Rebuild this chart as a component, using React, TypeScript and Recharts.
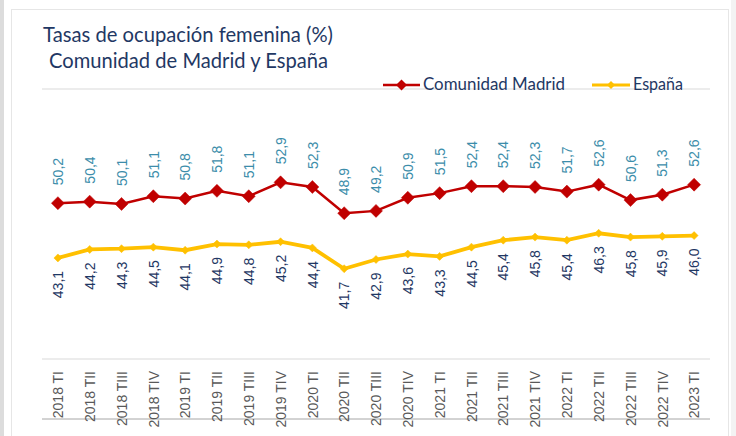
import React from "react";
import { LineChart, Line, XAxis, YAxis, CartesianGrid, LabelList } from "recharts";

const categories = ["2018 TI","2018 TII","2018 TIII","2018 TIV","2019 TI","2019 TII","2019 TIII","2019 TIV","2020 TI","2020 TII","2020 TIII","2020 TIV","2021 TI","2021 TII","2021 TIII","2021 TIV","2022 TI","2022 TII","2022 TIII","2022 TIV","2023 TI"];
const madrid = [50.2,50.4,50.1,51.1,50.8,51.8,51.1,52.9,52.3,48.9,49.2,50.9,51.5,52.4,52.4,52.3,51.7,52.6,50.6,51.3,52.6];
const espana = [43.1,44.2,44.3,44.5,44.1,44.9,44.8,45.2,44.4,41.7,42.9,43.6,43.3,44.5,45.4,45.8,45.4,46.3,45.8,45.9,46.0];
const yTicks = [30,35,40,45,50,55,60,65];

const data = categories.map((c, i) => ({ i, q: c, madrid: madrid[i], espana: espana[i] }));
const centerTicks = categories.map((_, i) => i);
const boundaryTicks = [...categories.map((_, i) => i - 0.5), categories.length - 0.5];

const RED = "#C00000";
const YEL = "#FFC000";
const NAVY = "#1F3864";
const TEAL = "#3C8DAA";
const FONT = "'Liberation Sans', Arial, sans-serif";
const TFONT = "Lato, 'Open Sans', sans-serif";

const fmt = (v: number) => v.toFixed(1).replace(".", ",");

const diamond = (cx: number, cy: number, r: number) =>
  `M${cx},${cy - r}L${cx + r},${cy}L${cx},${cy + r}L${cx - r},${cy}Z`;

const RedDot = (p: any) => (
  <path key={`rd${p.index}`} d={diamond(p.cx, p.cy, 6.5)} fill={RED} stroke={RED} strokeWidth={0.5} />
);
const YelDot = (p: any) => (
  <path key={`yd${p.index}`} d={diamond(p.cx, p.cy, 4)} fill={YEL} stroke={YEL} strokeWidth={0.5} />
);

const TopLabel = (p: any) => (
  <text
    transform={`translate(${p.x},${p.y - 18}) rotate(-90) scale(1,1.08)`}
    textAnchor="start"
    dominantBaseline="central"
    fontSize={14}
    fontFamily={FONT}
    fill={TEAL}
  >
    {fmt(p.value)}
  </text>
);

const BottomLabel = (p: any) => (
  <text
    transform={`translate(${p.x},${p.y + 13}) rotate(-90) scale(1,1.08)`}
    textAnchor="end"
    dominantBaseline="central"
    fontSize={14}
    fontFamily={FONT}
    fill={NAVY}
  >
    {fmt(p.value)}
  </text>
);

const CatTick = (p: any) => (
  <text
    transform={`translate(${p.x},${p.y}) rotate(-90) scale(1,1.1)`}
    textAnchor="end"
    dominantBaseline="central"
    fontSize={14}
    fontFamily={FONT}
    fill="#595959"
  >
    {categories[p.payload.value]}
  </text>
);

export default function App() {
  return (
    <div style={{ position: "absolute", left: 0, top: 0, width: 736, height: 436, background: "#fff", overflow: "hidden" }}>
      <div style={{ position: "absolute", left: 0, top: 0, width: 4, height: 436, background: "#dcdcdc" }} />
      <div style={{ position: "absolute", left: 731, top: 0, width: 5, height: 436, background: "#f3f3f3" }} />
      <div style={{ position: "absolute", left: 11, top: 9, width: 718, height: 440, border: "1px solid #e6e6e6", boxSizing: "border-box" }} />
      <div style={{ position: "absolute", left: 0, top: 0 }}>
        <LineChart width={736} height={436} data={data} margin={{ top: 89, right: 26, bottom: 16, left: 42 }}>
          <CartesianGrid horizontal vertical={false} stroke="#d9d9d9" strokeWidth={1} />
          <YAxis domain={[30, 65]} ticks={yTicks} width={0} tick={false} axisLine={false} tickLine={false} />
          <XAxis
            xAxisId="b"
            type="number"
            domain={[-0.5, 20.5]}
            ticks={boundaryTicks}
            tick={false}
            tickSize={5}
            height={1}
            stroke="#a6a6a6"
            allowDataOverflow
          />
          <XAxis
            dataKey="i"
            type="number"
            domain={[-0.5, 20.5]}
            ticks={centerTicks}
            interval={0}
            tick={CatTick}
            tickLine={false}
            axisLine={false}
            tickSize={0}
            tickMargin={12}
            height={60}
            allowDataOverflow
          />
          <Line dataKey="espana" stroke={YEL} strokeWidth={3.8} dot={YelDot} activeDot={false} isAnimationActive={false}>
            <LabelList dataKey="espana" content={BottomLabel} />
          </Line>
          <Line dataKey="madrid" stroke={RED} strokeWidth={2.5} dot={RedDot} activeDot={false} isAnimationActive={false}>
            <LabelList dataKey="madrid" content={TopLabel} />
          </Line>
        </LineChart>
      </div>
      <svg width={736} height={436} style={{ position: "absolute", left: 0, top: 0, pointerEvents: "none" }}>
        <text x={43} y={42} fontSize={21} fontFamily={TFONT} fill={NAVY} textLength={290} lengthAdjust="spacingAndGlyphs">
          Tasas de ocupación femenina (%)
        </text>
        <text x={49} y={68} fontSize={21} fontFamily={TFONT} fill={NAVY} textLength={279} lengthAdjust="spacingAndGlyphs">
          Comunidad de Madrid y España
        </text>
        <line x1={383} y1={85} x2={420} y2={85} stroke={RED} strokeWidth={2.5} />
        <path d={diamond(401.5, 85, 5.5)} fill={RED} />
        <text x={423} y={90} fontSize={18} fontFamily={TFONT} fill={NAVY} textLength={142} lengthAdjust="spacingAndGlyphs">
          Comunidad Madrid
        </text>
        <line x1={592} y1={85} x2={630} y2={85} stroke={YEL} strokeWidth={3} />
        <path d={diamond(611, 85, 4)} fill={YEL} />
        <text x={633} y={90} fontSize={18} fontFamily={TFONT} fill={NAVY} textLength={50} lengthAdjust="spacingAndGlyphs">
          España
        </text>
      </svg>
    </div>
  );
}
